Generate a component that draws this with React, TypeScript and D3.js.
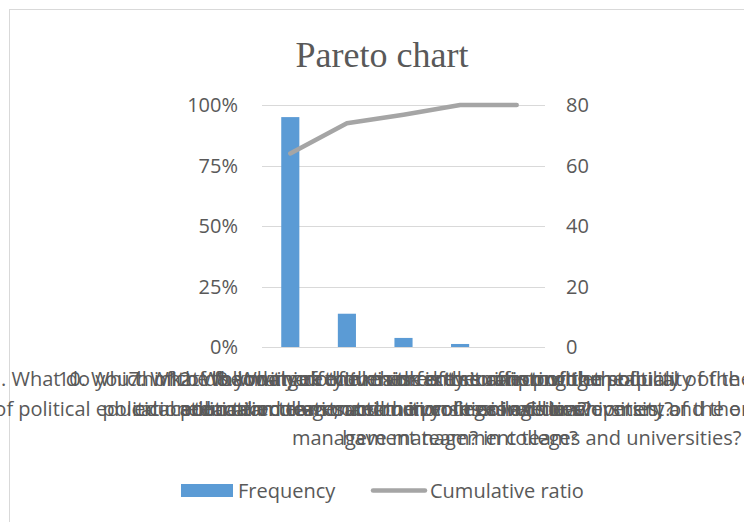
import { useEffect, useRef } from 'react'
import * as d3 from 'd3'

const categories = ['Q11', 'Q10', 'Q7', 'Q12', 'Q8']

// wrapped category labels, one array of lines per category
const categoryLines: string[][] = [
  [
    '11. What do you think of the main effectiveness of the construction',
    'of political education team in colleges and universities in China?',
  ],
  [
    '10. Which of the following do you think is the main problem of',
    'political education team construction in universities?',
  ],
  [
    '7. What do you think of the current situation of the political',
    'education team construction in your college or university?',
  ],
  [
    '12. What do you think is the key to improving the quality of the',
    'political education team in colleges and universities, and the',
    'have management team?',
  ],
  [
    '8. What are the main factors affecting the stability of the political',
    'education team, and the professional development of the organisation',
    'management team? in colleges and universities?',
  ],
]

const frequency = [76, 11, 3, 1, 0]
const cumulativeRatio = [0.8, 0.925, 0.96, 1, 1]

const leftTicks = [0, 0.25, 0.5, 0.75, 1]
const rightTicks = [0, 20, 40, 60, 80]

const TEXT = '#595959'
const FONT = '"Open Sans", sans-serif'

export default function App() {
  const ref = useRef<SVGSVGElement | null>(null)

  useEffect(() => {
    if (!ref.current) return
    const svg = d3.select(ref.current)
    svg.selectAll('*').remove()

    const plot = { left: 262, right: 545, top: 105, bottom: 347 }

    const x = d3
      .scaleBand()
      .domain(categories)
      .range([plot.left, plot.right])
      .paddingInner(0.68)
      .paddingOuter(0.34)

    const yLeft = d3.scaleLinear().domain([0, 1]).range([plot.bottom, plot.top])
    const yRight = d3.scaleLinear().domain([0, 80]).range([plot.bottom, plot.top])

    // chart area
    svg
      .append('rect')
      .attr('x', 9.5)
      .attr('y', 9.5)
      .attr('width', 760)
      .attr('height', 540)
      .attr('fill', '#fff')
      .attr('stroke', '#d9d9d9')

    svg
      .append('text')
      .attr('x', 382)
      .attr('y', 67)
      .attr('text-anchor', 'middle')
      .attr('font-family', '"Liberation Serif", serif')
      .attr('font-size', 36)
      .attr('fill', TEXT)
      .text('Pareto chart')

    // gridlines
    svg
      .selectAll('.grid')
      .data(rightTicks)
      .enter()
      .append('line')
      .attr('x1', plot.left)
      .attr('x2', plot.right)
      .attr('y1', (d) => Math.round(yRight(d)) + 0.5)
      .attr('y2', (d) => Math.round(yRight(d)) + 0.5)
      .attr('stroke', '#d9d9d9')
      .attr('stroke-width', 1)

    svg
      .selectAll('.tick-left')
      .data(leftTicks)
      .enter()
      .append('text')
      .attr('x', 238)
      .attr('y', (d) => yLeft(d) + 7)
      .attr('text-anchor', 'end')
      .attr('font-family', FONT)
      .attr('font-size', 20)
      .attr('fill', TEXT)
      .text((d) => d3.format('.0%')(d))

    svg
      .selectAll('.tick-right')
      .data(rightTicks)
      .enter()
      .append('text')
      .attr('x', 566)
      .attr('y', (d) => yRight(d) + 7)
      .attr('font-family', FONT)
      .attr('font-size', 20)
      .attr('fill', TEXT)
      .text((d) => String(d))

    // bars
    svg
      .selectAll('.bar')
      .data(frequency)
      .enter()
      .append('rect')
      .attr('x', (_, i) => x(categories[i]) ?? 0)
      .attr('y', (d) => yRight(d))
      .attr('width', x.bandwidth())
      .attr('height', (d) => plot.bottom - yRight(d))
      .attr('fill', '#5b9bd5')

    // cumulative line
    const line = d3
      .line<number>()
      .x((_, i) => (x(categories[i]) ?? 0) + x.bandwidth() / 2)
      .y((d) => yLeft(d))

    svg
      .append('path')
      .attr('d', line(cumulativeRatio))
      .attr('fill', 'none')
      .attr('stroke', '#a5a5a5')
      .attr('stroke-width', 4.5)
      .attr('stroke-linecap', 'round')
      .attr('stroke-linejoin', 'round')

    // category labels (they overlap, as in the original)
    categoryLines.forEach((lines, i) => {
      const cx = (x(categories[i]) ?? 0) + x.bandwidth() / 2
      svg
        .append('g')
        .selectAll('text')
        .data(lines)
        .enter()
        .append('text')
        .attr('x', cx)
        .attr('y', (_, j) => 386 + j * 29.5)
        .attr('text-anchor', 'middle')
        .attr('font-family', FONT)
        .attr('font-size', 20)
        .attr('fill', TEXT)
        .text((d) => d)
    })

    // legend
    const legend = svg.append('g').attr('font-family', FONT).attr('font-size', 20).attr('fill', TEXT)
    legend.append('rect').attr('x', 181).attr('y', 484).attr('width', 52).attr('height', 13).attr('fill', '#5b9bd5')
    legend.append('text').attr('x', 238).attr('y', 498).text('Frequency')
    legend
      .append('line')
      .attr('x1', 373)
      .attr('x2', 425)
      .attr('y1', 490.5)
      .attr('y2', 490.5)
      .attr('stroke', '#a5a5a5')
      .attr('stroke-width', 4.5)
      .attr('stroke-linecap', 'round')
    legend.append('text').attr('x', 430).attr('y', 498).text('Cumulative ratio')
  }, [])

  return (
    <svg
      ref={ref}
      width={744}
      height={522}
      style={{ position: 'absolute', left: 0, top: 0, display: 'block' }}
      role="img"
      aria-label="Pareto chart"
    />
  )
}
